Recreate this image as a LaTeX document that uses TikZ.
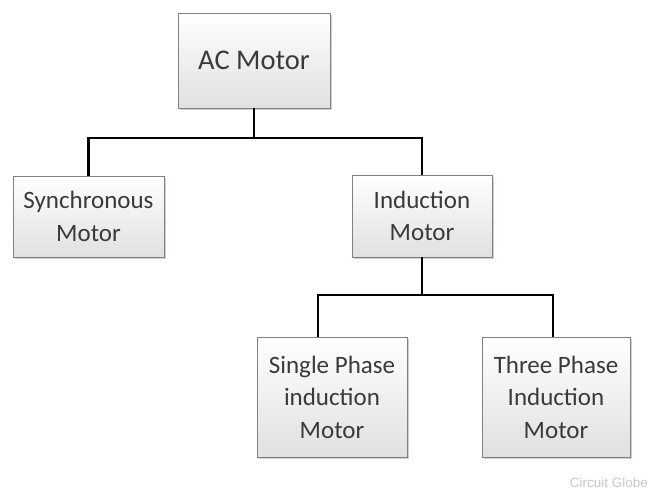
\documentclass[tikz,border=0pt]{standalone}
\usepackage{fontspec}
\setmainfont{Carlito}
\newfontfamily\wmfont{Liberation Sans}
\usetikzlibrary{shadows,calc}
\definecolor{txt}{HTML}{3A3A3A}
\definecolor{edge}{HTML}{808080}
\definecolor{shade}{HTML}{D9C3D3}
\tikzset{
  box/.style={draw=edge, line width=0.9pt, rectangle, inner sep=0pt, align=center,
    top color=white, bottom color=black!12, text=txt,
    drop shadow={shadow xshift=1.6pt, shadow yshift=-1.8pt, fill=shade, opacity=0.9},
    font=\fontsize{25}{32.5}\selectfont},
  conn/.style={line width=2.8pt, black, line join=miter}
}
\begin{document}
\begin{tikzpicture}[x=1pt,y=-1pt]
\useasboundingbox (0,0) rectangle (650,493);
\node[box, minimum width=152pt, minimum height=95pt, font=\fontsize{28.5}{34}\selectfont] (ac) at (254,60.5) {AC Motor};
\node[box, minimum width=151pt, minimum height=81pt] (sync) at (88.5,216.5) {Synchronous\\Motor};
\node[box, minimum width=140pt, minimum height=82pt] (ind) at (422,216) {Induction\\Motor};
\node[box, minimum width=150pt, minimum height=120pt] (single) at (332,397) {Single Phase\\induction\\Motor};
\node[box, minimum width=148pt, minimum height=120pt] (three) at (556,397) {Three Phase\\Induction\\Motor};
\coordinate (bus1) at (0,138);
\coordinate (bus2) at (0,295);
\coordinate (stop) at ([xshift=-14pt]single.north);
\coordinate (ttop) at ([xshift=-3pt]three.north);
\draw[conn] (ac.south) -- (ac.south |- bus1);
\draw[conn] (sync.north) -- (sync.north |- bus1) -- (ind.north |- bus1) -- (ind.north);
\draw[conn] (ind.south) -- (ind.south |- bus2);
\draw[conn] (stop) -- (stop |- bus2) -- (ttop |- bus2) -- (ttop);
\node[text=black!22, font=\wmfont\fontsize{13.5}{15}\selectfont, anchor=east, inner sep=0pt] (wm) at (648,483) {Circuit Globe};
\end{tikzpicture}
\end{document}
